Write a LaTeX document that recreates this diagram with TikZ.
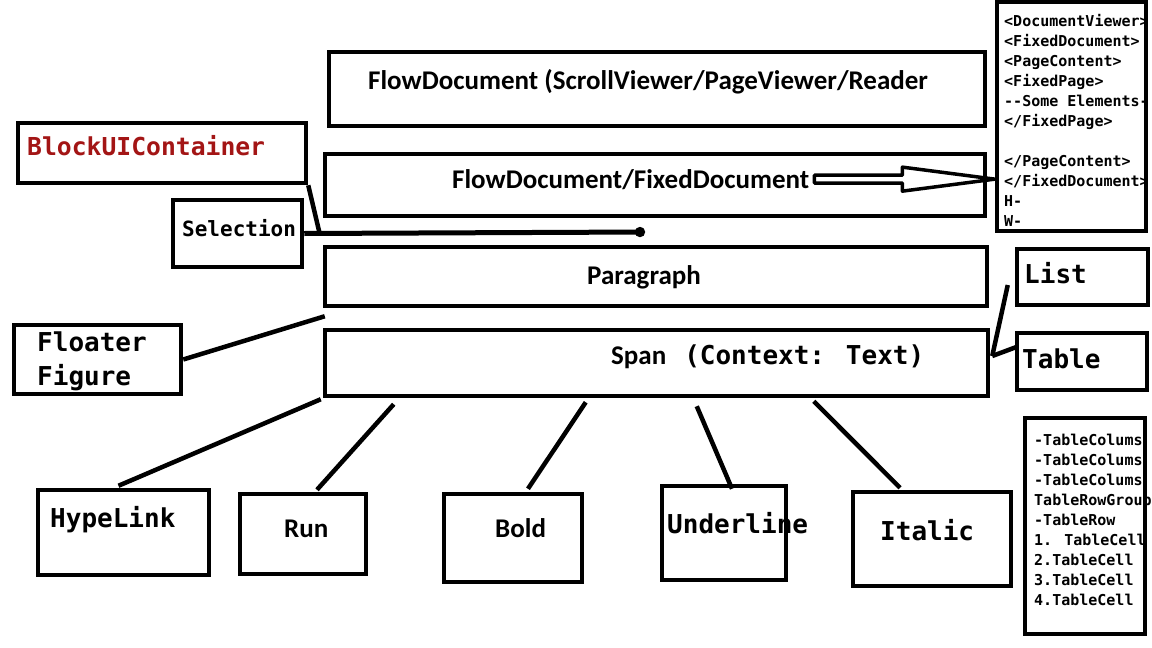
\documentclass[tikz,border=0pt]{standalone}
\usepackage{fontspec}
\setmainfont{Carlito}
\newfontfamily\codefont{DejaVu Sans Mono}
\usetikzlibrary{arrows.meta,calc}
\definecolor{xmlred}{RGB}{163,21,21}

\begin{document}
\begin{tikzpicture}[x=1pt,y=-1pt,
  main/.style = {draw, rectangle, line width=4.5pt, inner sep=0pt},
  txt/.style = {anchor=base west, inner sep=0pt, font=\bfseries\fontsize{27}{32}\selectfont},
  mono/.style = {anchor=base west, inner sep=0pt, font=\codefont\bfseries\fontsize{26}{34}\selectfont},
  small/.style = {anchor=north west, inner sep=0pt, align=left, font=\codefont\bfseries\fontsize{15}{20}\selectfont},
  link/.style = {line width=4.5pt}]
\useasboundingbox (0,0) rectangle (1152,648);

% boxes
\node[main, minimum width=656, minimum height=74] (1) at (657,89) {};
\node[main, minimum width=660, minimum height=62] (2) at (655,185) {};
\node[main, minimum width=149, minimum height=229] (3) at (1071.5,116.5) {};
\node[main, minimum width=288, minimum height=60] (4) at (162,153) {};
\node[main, minimum width=129, minimum height=67] (5) at (237.5,233.5) {};
\node[main, minimum width=662, minimum height=59] (6) at (656,276.5) {};
\node[main, minimum width=167, minimum height=69] (7) at (97.5,359.5) {};
\node[main, minimum width=663, minimum height=66] (8) at (656.5,363) {};
\node[main, minimum width=131, minimum height=56] (9) at (1082.5,277) {};
\node[main, minimum width=130, minimum height=57] (10) at (1082,361.5) {};
\node[main, minimum width=171, minimum height=85] (11) at (123.5,532.5) {};
\node[main, minimum width=126, minimum height=80] (12) at (303,534) {};
\node[main, minimum width=138, minimum height=88] (13) at (513,538) {};
\node[main, minimum width=124, minimum height=94] (14) at (724,533) {};
\node[main, minimum width=158, minimum height=94] (15) at (932,539) {};
\node[main, minimum width=120, minimum height=216] (16) at (1085,526) {};

% texts
\node[txt] (1t) at (368,89) {FlowDocument (ScrollViewer/PageViewer/Reader};
\node[txt] (2t) at (452,188) {FlowDocument/FixedDocument};
\node[small] (3t) at (1004,14) {<DocumentViewer>\\<FixedDocument>\\<PageContent>\\<FixedPage>\\-{}-Some Elements-\\</FixedPage>\\~\\</PageContent>\\</FixedDocument>\\H-\\W-};
\node[mono, text=xmlred, font=\codefont\bfseries\fontsize{24.7}{30}\selectfont] (4t) at (27,155) {BlockUIContainer};
\node[mono, font=\codefont\bfseries\fontsize{21}{26}\selectfont] (5t) at (182,236) {Selection};
\node[txt] (6t) at (587,284) {Paragraph};
\node[mono, anchor=north west, align=left] (7t) at (37,332) {Floater\\Figure};
\node[txt] (8t) at (611,364) {Span\hspace{18pt}{\codefont\fontsize{26}{30}\selectfont(Context: Text)}};
\node[mono] (9t) at (1024,283) {List};
\node[mono] (10t) at (1022,368) {Table};
\node[mono] (11t) at (50,527) {HypeLink};
\node[txt] (12t) at (284,537) {Run};
\node[txt] (13t) at (495,537) {Bold};
\node[mono] (14t) at (667,533) {Underline};
\node[mono] (15t) at (880,540) {Italic};
\node[small] (16t) at (1034,434) {-TableColums\\-TableColums\\-TableColums\\TableRowGroup\\-TableRow\\1. TableCell\\2.TableCell\\3.TableCell\\4.TableCell};

% connectors
\draw[line width=3.5pt, line join=round] ($(2t.east)+(5,-4)$) -- ++(88,0) -- ++(0,-8)
  -- (3.west |- 2t.east) -- ($(2t.east)+(93,12)$) -- ++(0,-8) -- ($(2t.east)+(5,4)$) -- cycle;
\coordinate (c) at (645,232);
\coordinate (j) at (320,235);
\draw[link, line width=5pt, -{Circle[length=10pt]}] (5.east) -- (c);
\draw[link] (4.south east) -- (j);
\draw[link] (7.east) -- ([shift={(2,8)}]6.south west);
\draw[link] ([shift={(2,-7)}]8.east) -- ([shift={(-7,8)}]9.west);
\draw[link] ([shift={(2,-7)}]8.east) -- ([shift={(3,-15)}]10.west);
\draw[link] ([shift={(-2,1)}]8.south west) -- ([shift={(-5,-2)}]11.north);
\draw[link] ([shift={(71,6)}]8.south west) -- ([shift={(14,-2)}]12.north);
\draw[link] ([shift={(263,4)}]8.south west) -- ([shift={(15,-3)}]13.north);
\draw[link] ([shift={(374,8)}]8.south west) -- ([shift={(8,5)}]14.north);
\draw[link] ([shift={(491,3)}]8.south west) -- ([shift={(-32,-2)}]15.north);
\end{tikzpicture}
\end{document}
